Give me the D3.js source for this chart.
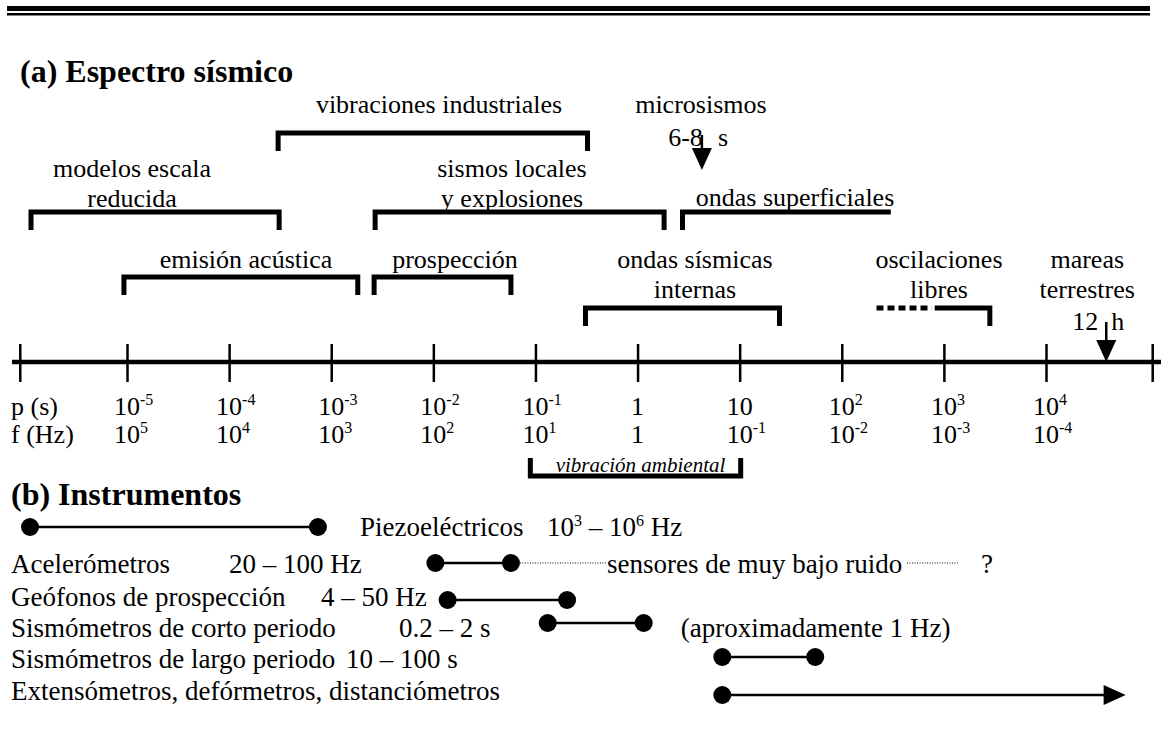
<!DOCTYPE html>
<html>
<head>
<meta charset="utf-8">
<script src="https://cdn.jsdelivr.net/npm/d3@7"></script>
<style>
body { margin: 0; background: #fff; }
text { font-family: "Liberation Serif", "Times New Roman", serif; fill: #000; }
</style>
</head>
<body>
<div id="chart"></div>
<script>
// period axis, log10 of the period in seconds
var pTicks = [-6.05, -5, -4, -3, -2, -1, 0, 1, 2, 3, 4, 5.04];
var pLabels = ['', '10^-5', '10^-4', '10^-3', '10^-2', '10^-1', '1', '10', '10^2', '10^3', '10^4', ''];
var fLabels = ['', '10^5', '10^4', '10^3', '10^2', '10^1', '1', '10^-1', '10^-2', '10^-3', '10^-4', ''];

// (a) spectrum bands (log10 period)
var bandNames = [['modelos escala', 'reducida'], ['vibraciones industriales'], ['sismos locales', 'y explosiones'],
    ['ondas superficiales'], ['emisión acústica'], ['prospección'], ['ondas sísmicas', 'internas'], ['oscilaciones', 'libres']];
var bandFrom = [-5.94, -3.52, -2.57, 0.44, -5.03, -2.58, -0.51, 2.91];
var bandTo = [-3.51, -0.49, 0.26, 2.48, -2.74, -1.24, 1.39, 3.45];
var libresDash = [2.34, 2.88];

var arrowNames = [['microsismos', '6-8', 's'], ['mareas', 'terrestres', '12', 'h']];
var arrowAt = [0.63, 4.59];

var ambName = 'vibración ambiental';
var ambRange = [-1.05, 1.01];

// (b) instruments (log10 period)
var instNames = ['Piezoeléctricos', 'Acelerómetros', 'Geófonos de prospección', 'Sismómetros de corto periodo',
    'Sismómetros de largo periodo', 'Extensómetros, defórmetros, distanciómetros'];
var instRanges = ['10^3 – 10^6 Hz', '20 – 100 Hz', '4 – 50 Hz', '0.2 – 2 s', '10 – 100 s', ''];
var instFrom = [-5.95, -1.98, -1.86, -0.88, 0.83, 0.83];
var instTo = [-3.13, -1.24, -0.69, 0.06, 1.74, 4.78];
var lowNoise = [-0.30, 2.61, 3.11]; // dotted extension of the accelerometers
var lowNoiseText = 'sensores de muy bajo ruido';
var cortoNote = '(aproximadamente 1 Hz)';

// layout only
var bandLayout = [
    {top: 212, legs: 'both', cx: 132, base: [177, 207]},
    {top: 133, legs: 'both', cx: 439, base: [113]},
    {top: 212, legs: 'both', cx: 512, base: [177, 207]},
    {top: 212, legs: 'left', cx: 795, base: [206]},
    {top: 277, legs: 'both', cx: 246, base: [268]},
    {top: 277, legs: 'both', cx: 455, base: [268]},
    {top: 308, legs: 'both', cx: 695, base: [268, 298]},
    {top: 308, legs: 'right', cx: 939, base: [268, 298]}
];
var instRowY = [527, 563, 600, 623, 657, 695];
var instBase = [536, 573, 606, 637, 668, 700];
var instNameX = [360, 11, 11, 11, 11, 11];
var instRangeX = [547, 229, 321, 399, 346, 0];
var instFont = 27;

var W = 1161, H = 742, axisY = 362;

var svg = d3.select('#chart').append('svg')
    .attr('width', W)
    .attr('height', H);

var x = d3.scaleLinear()
    .domain([-5, 4])
    .range([127, 1046]);

function richText(sel, s, sup) {
    var parts = s.split(/\^(-?\d+)/);
    parts.forEach(function (p, i) {
        var t = sel.append('tspan').text(p);
        if (i % 2 === 1) t.attr('font-size', sup).attr('dy', -10);
        else if (i > 0) t.attr('dy', 10);
    });
    return sel;
}

// double rule on top
svg.append('rect').attr('x', 7).attr('y', 6).attr('width', 1143).attr('height', 5);
svg.append('rect').attr('x', 7).attr('y', 13).attr('width', 1143).attr('height', 2.5);

svg.append('text').attr('x', 20).attr('y', 82)
    .attr('font-size', 32).attr('font-weight', 'bold')
    .text('(a) Espectro sísmico');

// brackets
var leg = 18;
bandFrom.forEach(function (f, i) {
    var L = bandLayout[i], x1 = x(f), x2 = x(bandTo[i]), y0 = L.top, y1 = L.top + leg;
    var path = (L.legs === 'right' ? 'M' + x1 + ',' + y0 : 'M' + x1 + ',' + y1 + 'V' + y0) +
        'H' + x2 + (L.legs === 'left' ? '' : 'V' + y1);
    svg.append('path').attr('d', path)
        .attr('fill', 'none').attr('stroke', '#000').attr('stroke-width', 5)
        .attr('stroke-linejoin', 'miter');
    bandNames[i].forEach(function (n, j) {
        svg.append('text').attr('x', L.cx).attr('y', L.base[j])
            .attr('text-anchor', 'middle').attr('font-size', 26).text(n);
    });
});
svg.append('line')
    .attr('x1', x(libresDash[0])).attr('x2', x(libresDash[1]))
    .attr('y1', 308).attr('y2', 308)
    .attr('stroke', '#000').attr('stroke-width', 5).attr('stroke-dasharray', '7,4');

// arrows
function downArrow(ax, yTop, tip) {
    svg.append('line').attr('x1', ax).attr('x2', ax).attr('y1', yTop).attr('y2', tip - 20)
        .attr('stroke', '#000').attr('stroke-width', 2.5);
    svg.append('path').attr('d', 'M' + (ax - 10) + ',' + (tip - 22) + 'L' + (ax + 10) + ',' + (tip - 22) + 'L' + ax + ',' + tip + 'Z');
}
var mx = x(arrowAt[0]);
svg.append('text').attr('x', mx - 1).attr('y', 113).attr('text-anchor', 'middle').attr('font-size', 26).text(arrowNames[0][0]);
svg.append('text').attr('x', mx + 1).attr('y', 146).attr('text-anchor', 'end').attr('font-size', 26).text(arrowNames[0][1]);
svg.append('text').attr('x', mx + 16).attr('y', 146).attr('font-size', 26).text(arrowNames[0][2]);
downArrow(mx, 135, 170);

var tx = x(arrowAt[1]);
svg.append('text').attr('x', tx - 19).attr('y', 268).attr('text-anchor', 'middle').attr('font-size', 26).text(arrowNames[1][0]);
svg.append('text').attr('x', tx - 19).attr('y', 298).attr('text-anchor', 'middle').attr('font-size', 26).text(arrowNames[1][1]);
svg.append('text').attr('x', tx - 8).attr('y', 330).attr('text-anchor', 'end').attr('font-size', 26).text(arrowNames[1][2]);
svg.append('text').attr('x', tx + 5).attr('y', 330).attr('font-size', 26).text(arrowNames[1][3]);
downArrow(tx, 322, axisY);

// main axis
svg.append('line').attr('x1', 12).attr('x2', W).attr('y1', axisY).attr('y2', axisY)
    .attr('stroke', '#000').attr('stroke-width', 4.5);
var gAxis = svg.append('g').attr('transform', 'translate(0,' + axisY + ')')
    .call(d3.axisBottom(x).tickValues(pTicks).tickSize(20).tickFormat(''));
gAxis.select('.domain').remove();
gAxis.selectAll('.tick line').attr('y1', -18).attr('stroke', '#000').attr('stroke-width', 2.5);

svg.append('text').attr('x', 11).attr('y', 415).attr('font-size', 26).text('p (s)');
svg.append('text').attr('x', 11).attr('y', 443).attr('font-size', 26).text('f (Hz)');
[pLabels, fLabels].forEach(function (labels, r) {
    labels.forEach(function (l, i) {
        if (!l) return;
        var base = l.split('^')[0];
        var t = svg.append('text').attr('x', x(pTicks[i]) - base.length * 6.5).attr('y', 415 + r * 28)
            .attr('font-size', 26);
        richText(t, l, 16);
    });
});

// ambient vibration bracket
svg.append('path')
    .attr('d', 'M' + x(ambRange[0]) + ',458V476H' + x(ambRange[1]) + 'V458')
    .attr('fill', 'none').attr('stroke', '#000').attr('stroke-width', 5);
svg.append('text').attr('x', (x(ambRange[0]) + x(ambRange[1])) / 2 + 5).attr('y', 472)
    .attr('text-anchor', 'middle').attr('font-size', 21).attr('font-style', 'italic').text(ambName);

// (b) instruments
svg.append('text').attr('x', 11).attr('y', 505)
    .attr('font-size', 32).attr('font-weight', 'bold')
    .text('(b) Instrumentos');

instNames.forEach(function (n, i) {
    var y = instRowY[i];
    svg.append('text').attr('x', instNameX[i]).attr('y', instBase[i]).attr('font-size', instFont).text(n);
    if (instRanges[i]) {
        richText(svg.append('text').attr('x', instRangeX[i]).attr('y', instBase[i]).attr('font-size', instFont), instRanges[i], 16);
    }
    var last = i === instNames.length - 1;
    var xe = last ? x(instTo[i]) - 20 : x(instTo[i]);
    svg.append('line').attr('x1', x(instFrom[i])).attr('x2', xe).attr('y1', y).attr('y2', y)
        .attr('stroke', '#000').attr('stroke-width', 2.5);
    svg.append('circle').attr('cx', x(instFrom[i])).attr('cy', y).attr('r', 9);
    if (last) {
        var xt = x(instTo[i]);
        svg.append('path').attr('d', 'M' + (xt - 22) + ',' + (y - 10) + 'L' + xt + ',' + y + 'L' + (xt - 22) + ',' + (y + 10) + 'Z');
    } else {
        svg.append('circle').attr('cx', x(instTo[i])).attr('cy', y).attr('r', 9);
    }
});

// low-noise sensors, dotted
var ay = instRowY[1];
svg.append('line').attr('x1', x(instTo[1]) + 9).attr('x2', x(lowNoise[0])).attr('y1', ay).attr('y2', ay)
    .attr('stroke', '#000').attr('stroke-width', 1).attr('stroke-dasharray', '1,1.5');
svg.append('text').attr('x', x(lowNoise[0])).attr('y', instBase[1]).attr('font-size', instFont).text(lowNoiseText);
svg.append('line').attr('x1', x(lowNoise[1]) + 3).attr('x2', x(lowNoise[2]) + 3).attr('y1', ay).attr('y2', ay)
    .attr('stroke', '#000').attr('stroke-width', 1).attr('stroke-dasharray', '1,1.5');
svg.append('text').attr('x', x(lowNoise[2]) + 26).attr('y', instBase[1]).attr('font-size', instFont).text('?');

svg.append('text').attr('x', x(instTo[3]) + 37).attr('y', instBase[3]).attr('font-size', instFont).text(cortoNote);
</script>
</body>
</html>
